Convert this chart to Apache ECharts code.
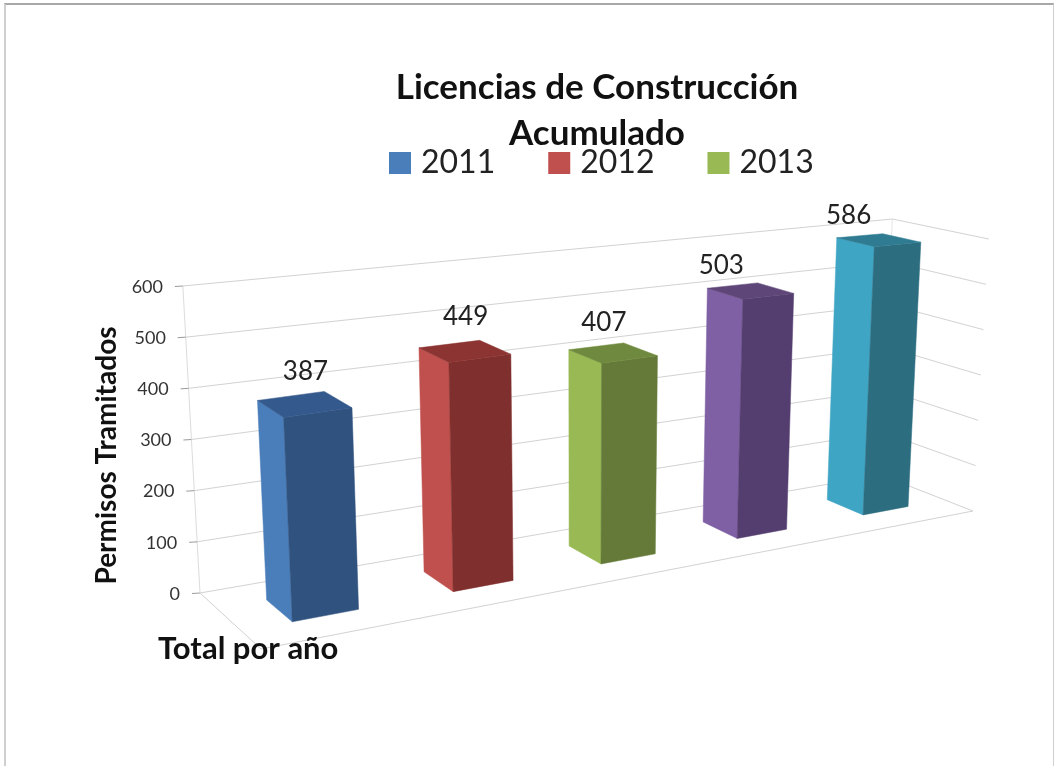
<!DOCTYPE html>
<html>
<head>
<meta charset="utf-8">
<style>
html,body{margin:0;padding:0;background:#fff;}
#chart{position:absolute;left:0;top:0;width:1055px;height:766px;}
#frame{position:absolute;left:4px;top:3px;right:1px;bottom:0;border-top:2px solid #a8a8a8;border-left:2px solid #cfcfcf;border-right:1px solid #cfcfcf;pointer-events:none;}
</style>
<script src="https://cdn.jsdelivr.net/npm/echarts@6/dist/echarts.min.js"></script>
</head>
<body>
<div id="chart"></div>
<div id="frame"></div>
<script>
var categories = ['2011', '2012', '2013', '2014', '2015'];
var values = [387, 449, 407, 503, 586];
var legendNames = ['2011', '2012', '2013'];
var tickValues = [0, 100, 200, 300, 400, 500, 600];

var sideColors = ['#4a7ebb', '#c0504d', '#98b954', '#7f60a5', '#3fa5c4'];
var frontColors = ['#30527f', '#7f2f2d', '#657a38', '#543e6f', '#2d6d80'];
var topColors = ['#34598c', '#8c3432', '#6f8a3e', '#5e4679', '#2f7c92'];
var labelShiftX = [1, 1, -9, -29, -30];
var labelShiftY = [-32, -34, -30, -25, -24];

var FONT = 'Lato';
var GRID = {left: 188, top: 287, width: 700, height: 307};

// room floor, order: front left, front right, back right, back left
var floorQuad = [[261, 649], [973, 511], [881, 475], [200, 593]];
// pixel height of the 600 level over those same corners
var wallHeights = [325, 272, 256, 307];
// verticals fan out from a point far below the picture
var LEAN_X = 580, LEAN_D = 6800;

var BAR_HALF = 0.039, BAR_Z0 = 0.3, BAR_Z1 = 0.7;

// unit square to quad
function makeHomography(q) {
    var sx = q[0][0] - q[1][0] + q[2][0] - q[3][0],
        sy = q[0][1] - q[1][1] + q[2][1] - q[3][1],
        dx1 = q[1][0] - q[2][0], dx2 = q[3][0] - q[2][0],
        dy1 = q[1][1] - q[2][1], dy2 = q[3][1] - q[2][1],
        den = dx1 * dy2 - dx2 * dy1,
        g = (sx * dy2 - dx2 * sy) / den,
        h = (dx1 * sy - sx * dy1) / den,
        a = q[1][0] - q[0][0] + g * q[1][0],
        b = q[3][0] - q[0][0] + h * q[3][0],
        d = q[1][1] - q[0][1] + g * q[1][1],
        e = q[3][1] - q[0][1] + h * q[3][1];
    return function (u, z) {
        var w = g * u + h * z + 1;
        return [(a * u + b * z + q[0][0]) / w, (d * u + e * z + q[0][1]) / w];
    };
}
var floorAt = makeHomography(floorQuad);

function project(u, h, z) {
    var p = floorAt(u, z);
    var front = wallHeights[0] + (wallHeights[1] - wallHeights[0]) * u,
        back = wallHeights[3] + (wallHeights[2] - wallHeights[3]) * u,
        rise = (front + (back - front) * z) * h;
    return [p[0] + (p[0] - LEAN_X) / LEAN_D * rise, p[1] - rise];
}

// library pixel position -> room fractions
function toRoom(api, cat, val) {
    var c = api.coord([cat, val]);
    var u = (c[0] - GRID.left) / GRID.width;
    return [u - 0.04 * u * (1 - u), (GRID.top + GRID.height - c[1]) / GRID.height];
}

function poly(pts, color) {
    return {type: 'polygon', shape: {points: pts}, style: {fill: color, stroke: color, lineWidth: 0.5}};
}
function line(a, b, color) {
    return {type: 'line', shape: {x1: a[0], y1: a[1], x2: b[0], y2: b[1]}, style: {stroke: color, lineWidth: 1, fill: null}};
}

function renderBar(params, api) {
    var k = params.seriesIndex - 1;
    var r = toRoom(api, api.value(0), api.value(1));
    var u0 = r[0] - BAR_HALF, u1 = r[0] + BAR_HALF, h = r[1];
    var top = [project(u0, h, BAR_Z0), project(u1, h, BAR_Z0), project(u1, h, BAR_Z1), project(u0, h, BAR_Z1)];
    var mid = project(r[0], h, 0.5);
    return {type: 'group', children: [
        poly([project(u0, 0, BAR_Z1), project(u0, 0, BAR_Z0), top[0], top[3]], sideColors[k]),
        poly([project(u0, 0, BAR_Z0), project(u1, 0, BAR_Z0), top[1], top[0]], frontColors[k]),
        poly(top, topColors[k]),
        {type: 'text', x: mid[0] + labelShiftX[k], y: mid[1] + labelShiftY[k], z2: 5, style: {
            text: String(api.value(1)), fontFamily: FONT, fontSize: 26, fill: '#222',
            align: 'center', verticalAlign: 'middle'
        }}
    ]};
}

// gridlines on the back wall and the right wall, one per tick
function renderWall(params, api) {
    var lineColor = '#d2d2d2';
    var h = toRoom(api, 0, api.value(0))[1];
    var backL = project(0, h, 1), backR = project(1, h, 1), frontR = project(1, h, 0);
    var children = [
        line([backL[0] - 8, backL[1] + 0.5], backL, '#9a9a9a'),
        line(backL, backR, lineColor),
        line(backR, frontR, lineColor)
    ];
    if (params.dataIndex === 0) {
        children.push(line(project(0, 0, 1), project(0, 1, 1), '#dcdcdc'));
        children.push(line(project(1, 0, 1), project(1, 1, 1), '#e6e6e6'));
        children.push(line(project(0, 0, 1), project(0, 0, 0), lineColor));
        children.push(line(project(0, 0, 0), project(1, 0, 0), lineColor));
    }
    return {type: 'group', children: children};
}

var axisRich = {};
tickValues.forEach(function (v) {
    axisRich['t' + v] = {padding: [0, 17 * v / 600, 0, 0], fontFamily: FONT, fontSize: 18, color: '#333'};
});

var series = [{
    type: 'custom', name: 'grid', renderItem: renderWall, silent: true,
    encode: {y: 0}, data: tickValues.map(function (v) { return [v]; }), z: 1
}];
categories.forEach(function (c, i) {
    series.push({
        type: 'custom', name: c, renderItem: renderBar, z: 2,
        itemStyle: {color: sideColors[i]},
        encode: {x: 0, y: 1}, data: [[c, values[i]]]
    });
});

var chart = echarts.init(document.getElementById('chart'));
chart.setOption({
    animation: false,
    backgroundColor: '#fff',
    textStyle: {fontFamily: FONT},
    title: [{
        text: 'Licencias de Construcción\nAcumulado', left: 592, textAlign: 'center', top: 60, z: 10,
        textStyle: {fontFamily: FONT, fontWeight: 'bold', fontSize: 35, lineHeight: 46, color: '#111'}
    }, {
        text: 'Total por año', left: 153, top: 628,
        textStyle: {fontFamily: FONT, fontWeight: 'bold', fontSize: 31, color: '#111'}
    }],
    legend: {
        data: legendNames, left: 389, top: 147, padding: 0, icon: 'rect', itemWidth: 22, itemHeight: 22, itemGap: 53,
        selectedMode: false,
        textStyle: {fontFamily: FONT, fontSize: 32, color: '#222', padding: [0, 0, 0, 5]}
    },
    grid: {left: GRID.left, top: GRID.top, width: GRID.width, height: GRID.height},
    xAxis: {type: 'category', data: categories, show: false},
    yAxis: {
        type: 'value', min: 0, max: 600, interval: 100,
        name: 'Permisos Tramitados', nameLocation: 'middle', nameGap: 63, nameRotate: 90,
        nameTextStyle: {fontFamily: FONT, fontWeight: 'bold', fontSize: 28, color: '#111', padding: [0, 0, 0, -30]},
        axisLine: {show: false}, axisTick: {show: false}, splitLine: {show: false},
        axisLabel: {
            margin: 8, fontFamily: FONT, fontSize: 18, color: '#333', rich: axisRich,
            formatter: function (v) { return '{t' + v + '|' + v + '}'; }
        }
    },
    series: series
});
</script>
</body>
</html>
